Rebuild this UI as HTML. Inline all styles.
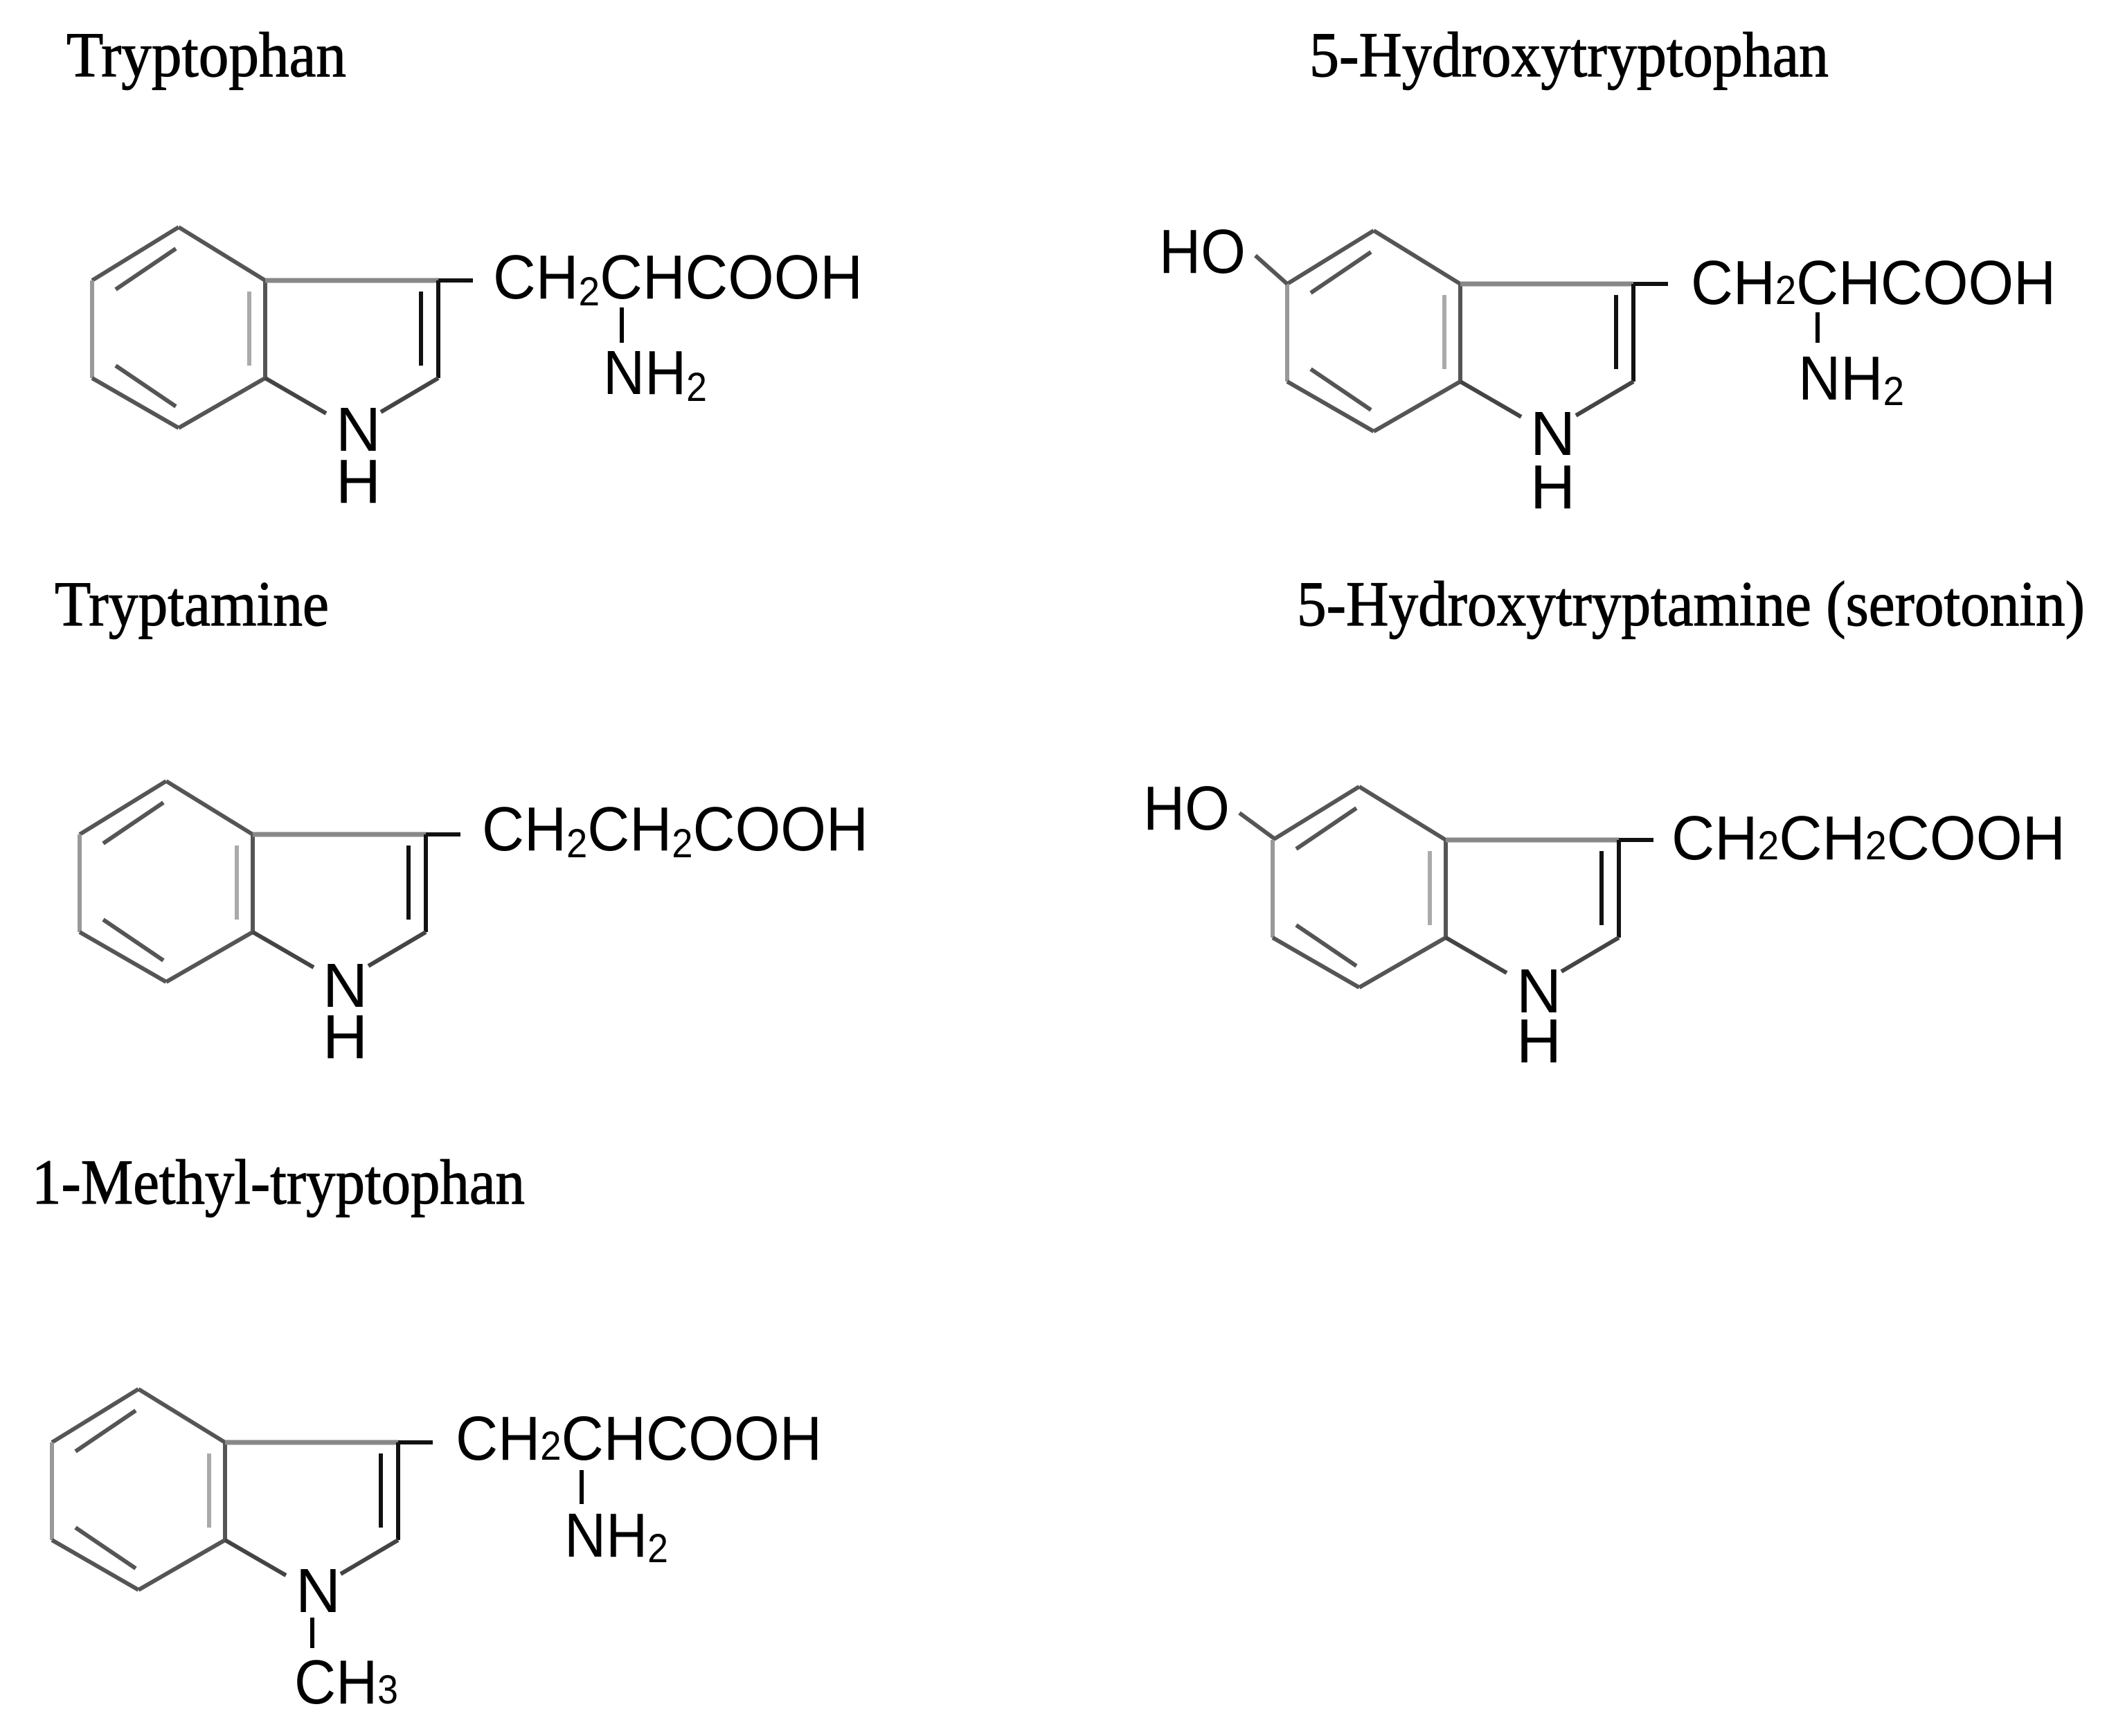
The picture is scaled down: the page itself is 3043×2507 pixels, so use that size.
<!DOCTYPE html>
<html><head><meta charset="utf-8"><style>
html,body{margin:0;padding:0;background:#fff}
svg{display:block}
.t{font-family:"Liberation Serif",serif;font-size:92px;fill:#000;stroke:#000;stroke-width:1.2}
.a{font-family:"Liberation Sans",sans-serif;font-size:90px;fill:#000}
.s{font-size:58px}
</style></head><body>
<svg width="3043" height="2507" viewBox="0 0 3043 2507" xmlns="http://www.w3.org/2000/svg">
<defs>
<g id="ind" stroke-width="6" fill="none" stroke-linecap="butt">
<line x1="0" y1="0" x2="-125" y2="77" stroke="#555"/>
<line x1="-125" y1="77" x2="-125" y2="218" stroke="#999"/>
<line x1="-125" y1="218" x2="0" y2="290" stroke="#555"/>
<line x1="0" y1="290" x2="125" y2="218" stroke="#555"/>
<line x1="125" y1="218" x2="125" y2="77" stroke="#555"/>
<line x1="125" y1="77" x2="0" y2="0" stroke="#555"/>
<line x1="-91" y1="90" x2="-4" y2="31" stroke="#555"/>
<line x1="102" y1="93" x2="102" y2="200" stroke="#aaa"/>
<line x1="-91" y1="200" x2="-4" y2="259" stroke="#555"/>
<line x1="125" y1="77" x2="375" y2="77" stroke="#888" stroke-width="7"/>
<line x1="375" y1="77" x2="375" y2="218" stroke="#111"/>
<line x1="350" y1="93" x2="350" y2="200" stroke="#111"/>
<line x1="125" y1="218" x2="213" y2="269" stroke="#444"/>
<line x1="292" y1="267" x2="375" y2="218" stroke="#444"/>
<line x1="375" y1="77" x2="425" y2="77" stroke="#111"/>
</g>
</defs>

<!-- Tryptophan -->
<text class="t" x="96" y="110" textLength="404" lengthAdjust="spacingAndGlyphs">Tryptophan</text>
<use href="#ind" x="258" y="328"/>
<text class="a" x="712" y="431" textLength="534" lengthAdjust="spacingAndGlyphs">CH<tspan class="s" dy="10">2</tspan><tspan dy="-10">CHCOOH</tspan></text>
<line x1="898" y1="444" x2="898" y2="495" stroke="#000" stroke-width="6"/>
<text class="a" x="871" y="569" textLength="150" lengthAdjust="spacingAndGlyphs">NH<tspan class="s" dy="10">2</tspan></text>
<text class="a" x="485" y="651">N</text>
<text class="a" x="485" y="726">H</text>

<!-- 5-Hydroxytryptophan -->
<text class="t" x="1891" y="110" textLength="750" lengthAdjust="spacingAndGlyphs">5-Hydroxytryptophan</text>
<use href="#ind" x="1984" y="333"/>
<line x1="1813" y1="369" x2="1859" y2="410" stroke="#555" stroke-width="6"/>
<text class="a" x="1674" y="394" textLength="125" lengthAdjust="spacingAndGlyphs">HO</text>
<text class="a" x="2442" y="439" textLength="527" lengthAdjust="spacingAndGlyphs">CH<tspan class="s" dy="0">2</tspan><tspan dy="0">CHCOOH</tspan></text>
<line x1="2625" y1="451" x2="2625" y2="495" stroke="#000" stroke-width="6"/>
<text class="a" x="2597" y="577" textLength="153" lengthAdjust="spacingAndGlyphs">NH<tspan class="s" dy="8">2</tspan></text>
<text class="a" x="2210" y="657">N</text>
<text class="a" x="2210" y="734">H</text>

<!-- Tryptamine -->
<text class="t" x="79" y="903" textLength="396" lengthAdjust="spacingAndGlyphs">Tryptamine</text>
<use href="#ind" x="240" y="1128"/>
<text class="a" x="696" y="1228" textLength="558" lengthAdjust="spacingAndGlyphs">CH<tspan class="s" dy="10">2</tspan><tspan dy="-10">CH</tspan><tspan class="s" dy="10">2</tspan><tspan dy="-10">COOH</tspan></text>
<text class="a" x="466" y="1454">N</text>
<text class="a" x="466" y="1528">H</text>

<!-- Serotonin -->
<text class="t" x="1873" y="903" textLength="1138" lengthAdjust="spacingAndGlyphs">5-Hydroxytryptamine (serotonin)</text>
<use href="#ind" x="1963" y="1136"/>
<line x1="1790" y1="1174" x2="1839" y2="1210" stroke="#555" stroke-width="6"/>
<text class="a" x="1651" y="1198" textLength="125" lengthAdjust="spacingAndGlyphs">HO</text>
<text class="a" x="2414" y="1241" textLength="569" lengthAdjust="spacingAndGlyphs">CH<tspan class="s">2</tspan>CH<tspan class="s">2</tspan>COOH</text>
<text class="a" x="2190" y="1462">N</text>
<text class="a" x="2190" y="1534">H</text>

<!-- 1-Methyl-tryptophan -->
<text class="t" x="46" y="1738" textLength="712" lengthAdjust="spacingAndGlyphs">1-Methyl-tryptophan</text>
<use href="#ind" x="200" y="2006"/>
<text class="a" x="658" y="2108" textLength="529" lengthAdjust="spacingAndGlyphs">CH<tspan class="s">2</tspan>CHCOOH</text>
<line x1="840" y1="2123" x2="840" y2="2172" stroke="#000" stroke-width="6"/>
<text class="a" x="815" y="2248" textLength="150" lengthAdjust="spacingAndGlyphs">NH<tspan class="s" dy="8">2</tspan></text>
<text class="a" x="427" y="2328">N</text>
<line x1="451" y1="2336" x2="451" y2="2380" stroke="#000" stroke-width="6"/>
<text class="a" x="425" y="2460" textLength="150" lengthAdjust="spacingAndGlyphs">CH<tspan class="s">3</tspan></text>
</svg>
</body></html>
